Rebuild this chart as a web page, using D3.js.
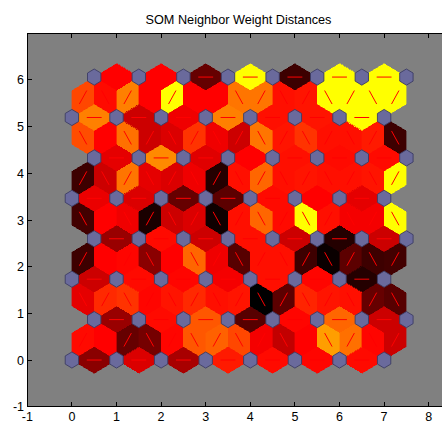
<!DOCTYPE html>
<html><head><meta charset="utf-8">
<script src="https://cdn.jsdelivr.net/npm/d3@7"></script>
<style>
body{margin:0;background:#fff;}
text{font-family:"Liberation Sans",Arial,Helvetica,sans-serif;fill:#000;}
</style>
</head><body>
<svg id="chart" width="442" height="424"></svg>
<script>
// ---------------- data ----------------
const chartTitle = "SOM Neighbor Weight Distances";
const gridCols = 8;
const gridRows = 8;
const xTickValues = [-1, 0, 1, 2, 3, 4, 5, 6, 7, 8];
const yTickValues = [-1, 0, 1, 2, 3, 4, 5, 6];

// neighbor weight distances, normalised 0 (close, yellow) .. 1 (far, black)
// horizontal neighbours, one array per row (left to right)
const horizRow0 = [0.73, 0.57, 0.67, 0.45, 0.48, 0.49, 0.48];
const horizRow1 = [0.70, 0.48, 0.33, 0.83, 0.49, 0.30, 0.60];
const horizRow2 = [0.60, 0.48, 0.49, 0.52, 0.47, 0.49, 0.93];
const horizRow3 = [0.70, 0.48, 0.60, 0.47, 0.60, 0.93, 0.60];
const horizRow4 = [0.54, 0.57, 0.80, 0.82, 0.48, 0.50, 0.55];
const horizRow5 = [0.55, 0.23, 0.56, 0.50, 0.47, 0.48, 0.48];
const horizRow6 = [0.25, 0.60, 0.53, 0.25, 0.47, 0.46, 0.00];
const horizRow7 = [0.50, 0.50, 0.80, 0.00, 0.88, 0.00, 0.00];
// diagonal neighbours between row r and row r+1 (left to right)
const diagRows01 = [0.48, 0.50, 0.80, 0.77, 0.49, 0.33, 0.31, 0.36, 0.52, 0.62, 0.50, 0.19, 0.28, 0.49, 0.60];
const diagRows12 = [0.55, 0.42, 0.40, 0.49, 0.46, 0.42, 0.47, 0.46, 1.00, 0.82, 0.43, 0.46, 0.47, 0.80, 0.83];
const diagRows23 = [0.88, 0.50, 0.49, 0.73, 0.50, 0.30, 0.53, 0.83, 0.47, 0.47, 0.88, 0.98, 0.82, 0.88, 0.87];
const diagRows34 = [0.87, 0.50, 0.53, 0.95, 0.60, 0.57, 0.97, 0.47, 0.30, 0.48, 0.00, 0.47, 0.52, 0.52, 0.00];
const diagRows45 = [0.88, 0.60, 0.27, 0.55, 0.57, 0.53, 0.93, 0.47, 0.30, 0.47, 0.46, 0.47, 0.47, 0.46, 0.00];
const diagRows56 = [0.35, 0.50, 0.28, 0.60, 0.57, 0.40, 0.53, 0.60, 0.27, 0.46, 0.40, 0.47, 0.47, 0.45, 0.88];
const diagRows67 = [0.36, 0.48, 0.25, 0.50, 0.00, 0.50, 0.50, 0.27, 0.27, 0.47, 0.46, 0.00, 0.00, 0.00, 0.00];

const horizRows = [horizRow0, horizRow1, horizRow2, horizRow3, horizRow4, horizRow5, horizRow6, horizRow7];
const diagRows = [diagRows01, diagRows12, diagRows23, diagRows34, diagRows45, diagRows56, diagRows67];

// ---------------- layout ----------------
const svg = d3.select("#chart");
const rowH = Math.sqrt(0.75);
const x = d3.scaleLinear().domain([-1, 8.5]).range([27.3, 27.3 + 9.5 * 44.6]);
const y = d3.scaleLinear().domain([-1, 7.0]).range([406.7, 33.3]);

const pos = (r, c) => [c + (r % 2 ? 0.5 : 0), r * rowH];

const color = d => {
  const l = 1 - d;
  const r = Math.min(2 * l, 1), g = Math.max(2 * l - 1, 0);
  return d3.rgb(255 * r, 255 * g, 0).toString();
};

// build edges
const edges = [];
horizRows.forEach((vals, r) => vals.forEach((d, c) => edges.push({a: pos(r, c), b: pos(r, c + 1), d})));
diagRows.forEach((vals, r) => vals.forEach((d, k) => {
  let i, j;
  if (r % 2 === 0) {
    if (k % 2 === 0) { i = [r, k / 2]; j = [r + 1, k / 2]; }
    else { i = [r, (k + 1) / 2]; j = [r + 1, (k - 1) / 2]; }
  } else {
    if (k % 2 === 0) { i = [r, k / 2]; j = [r + 1, k / 2]; }
    else { i = [r, (k - 1) / 2]; j = [r + 1, (k + 1) / 2]; }
  }
  edges.push({a: pos(i[0], i[1]), b: pos(j[0], j[1]), d});
}));

// clip + background
const x0 = x(-1), x1 = x(8.5), y0 = y(7.0), y1 = y(-1);
svg.append("defs").append("clipPath").attr("id", "pa")
  .append("rect").attr("x", x0).attr("y", y0).attr("width", x1 - x0).attr("height", y1 - y0);
svg.append("rect").attr("x", x0).attr("y", y0).attr("width", x1 - x0).attr("height", y1 - y0)
  .attr("fill", "#808080");

const g = svg.append("g").attr("clip-path", "url(#pa)");

const edgeX = [-0.5, 0, 0.5, 0];
const edgeY = [0, 1, 0, -1].map(v => v * rowH / 3);

g.append("g").selectAll("polygon").data(edges).join("polygon")
  .attr("points", e => {
    const mx = (e.a[0] + e.b[0]) / 2, my = (e.a[1] + e.b[1]) / 2;
    const ang = Math.atan2(e.b[1] - e.a[1], e.b[0] - e.a[0]);
    const ca = Math.cos(ang), sa = Math.sin(ang);
    return edgeX.map((ex, k) => {
      const ey = edgeY[k];
      return [x(mx + ex * ca - ey * sa), y(my + ex * sa + ey * ca)].join(",");
    }).join(" ");
  })
  .attr("fill", e => color(e.d))
  .attr("stroke", e => color(e.d)).attr("stroke-width", 0.4)
  .attr("shape-rendering", "crispEdges");

g.append("g").selectAll("line").data(edges).join("line")
  .attr("x1", e => x((2 * e.a[0] + e.b[0]) / 3)).attr("y1", e => y((2 * e.a[1] + e.b[1]) / 3))
  .attr("x2", e => x((e.a[0] + 2 * e.b[0]) / 3)).attr("y2", e => y((e.a[1] + 2 * e.b[1]) / 3))
  .attr("stroke", "#ff0000").attr("stroke-width", 1);

// neurons
const neurons = [];
for (let r = 0; r < gridRows; r++) for (let c = 0; c < gridCols; c++) neurons.push(pos(r, c));
const s = 0.3;
const shapeX = [-1, 0, 1, 1, 0, -1].map(v => v * 0.5 * s);
const shapeY = [1, 2, 1, -1, -2, -1].map(v => v * rowH / 3 * s);
g.append("g").selectAll("polygon").data(neurons).join("polygon")
  .attr("points", p => shapeX.map((sx, k) => [x(p[0] + sx), y(p[1] + shapeY[k])].join(",")).join(" "))
  .attr("fill", "#6a6a9c").attr("stroke", "#3c3c64").attr("stroke-width", 0.9);

// axes frame and ticks
const frame = svg.append("g").attr("shape-rendering", "crispEdges");
frame.append("rect").attr("x", x0).attr("y", y0).attr("width", x1 - x0).attr("height", y1 - y0)
  .attr("fill", "none").attr("stroke", "#000").attr("stroke-width", 1);
const tl = 4.5;
xTickValues.forEach(v => {
  frame.append("line").attr("x1", x(v)).attr("x2", x(v)).attr("y1", y1).attr("y2", y1 - tl).attr("stroke", "#000");
  frame.append("line").attr("x1", x(v)).attr("x2", x(v)).attr("y1", y0).attr("y2", y0 + tl).attr("stroke", "#000");
});
yTickValues.forEach(v => {
  frame.append("line").attr("x1", x0).attr("x2", x0 + tl).attr("y1", y(v)).attr("y2", y(v)).attr("stroke", "#000");
  frame.append("line").attr("x1", x1).attr("x2", x1 - tl).attr("y1", y(v)).attr("y2", y(v)).attr("stroke", "#000");
});
svg.append("g").selectAll("text").data(xTickValues).join("text")
  .attr("x", v => x(v)).attr("y", 420.5).attr("text-anchor", "middle").attr("font-size", 12.5)
  .text(v => v);
svg.append("g").selectAll("text").data(yTickValues).join("text")
  .attr("x", 24).attr("y", v => y(v) + 4.5).attr("text-anchor", "end").attr("font-size", 12.5)
  .text(v => v);
svg.append("text").attr("x", 238.5).attr("y", 23.8).attr("text-anchor", "middle")
  .attr("font-size", 12.7).text(chartTitle);
</script>
</body></html>
